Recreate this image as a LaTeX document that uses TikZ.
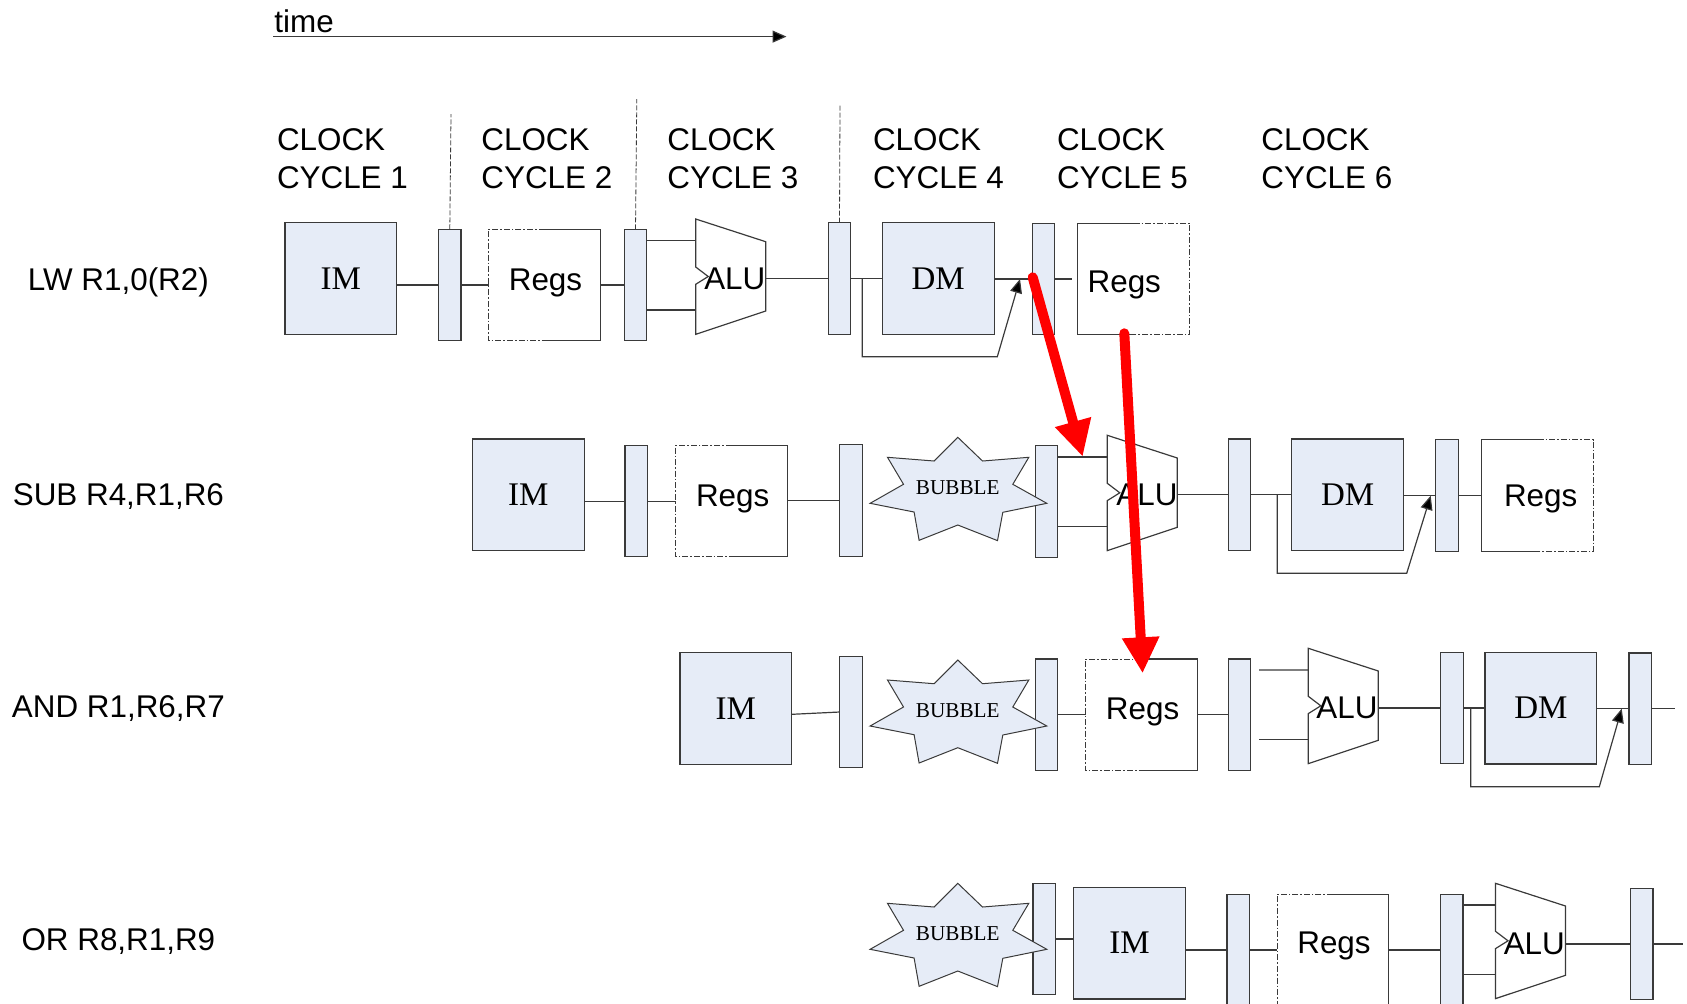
\documentclass[tikz,border=0pt]{standalone}
\usepackage{fontspec}
\setmainfont{Liberation Sans}
\newfontfamily\pipeserif{Liberation Serif}
\usepackage{xcolor}
\usetikzlibrary{arrows.meta,positioning}
\definecolor{pipeFill}{HTML}{E6ECF7}
\definecolor{pipeInk}{HTML}{3A3A3A}
\definecolor{pipeRed}{HTML}{FF0000}
\tikzset{
 stagebox/.style={draw=pipeInk,line width=0.6pt,inner sep=0pt,outer sep=0pt,anchor=north west},
 membox/.style={stagebox,fill=pipeFill,minimum width=55.9pt,minimum height=55.8pt,font=\pipeserif\fontsize{16.5}{18}\selectfont},
 latchbox/.style={stagebox,fill=pipeFill,minimum width=11.2pt,minimum height=55.7pt},
 regsbox/.style={inner sep=0pt,outer sep=0pt,anchor=north west,minimum width=55.9pt,minimum height=55.7pt},
 wire/.style={draw=pipeInk,line width=0.6pt},
 cyclemark/.style={draw=pipeInk,line width=0.4pt,dash pattern=on 2.5pt off 1pt},
 halfdash/.style={draw=pipeInk,line width=0.5pt,dash pattern=on 3pt off 1pt on 0.8pt off 1pt},
 sans/.style={font=\fontsize{15.7}{18.8}\selectfont,inner sep=0pt,align=left},
 flat/.style={sans,text depth=0pt},
 bubbletxt/.style={font=\pipeserif\fontsize{10.6}{13}\selectfont,inner sep=0pt},
 tip/.style={-{Triangle[length=7pt,width=6pt,fill=black]}},
 hazard/.style={draw=pipeRed,line width=5pt,line cap=round,-{Triangle[length=18pt,width=17.5pt,fill=pipeRed]}}
}
\begin{document}
\begin{tikzpicture}[x=0.5pt,y=-0.5pt]
\clip (0,0) rectangle (1687,1003);
% pipeline registers
\foreach \name/\x/\y in {
 la1/438.6/229.3,la2/624.3/229.3,la3/828.3/222.7,la4/1032.3/223.3,
 lb1/625/445.4,lb2/839.7/444.7,lb3/1035.3/445.7,lb4/1228.3/439,lb5/1435.7/439.7,
 lc1/839.7/656.3,lc2/1035.3/659,lc3/1228.4/659,lc4/1440.7/652.3,lc5/1629/653,
 ld1/1033/883.3,ld2/1227/894.3,ld3/1440.5/894.3,ld4/1630.6/888.3}{
 \node[latchbox] (\name) at (\x,\y) {};
}
\foreach \name/\x/\y/\txt in {
 im1/285/222.7/IM,dm1/882.3/222.7/DM,
 im2/472.3/439/IM,dm2/1291.7/439/DM,
 im3/680/652.5/IM,dm3/1485/652.3/DM,
 im4/1073.7/887.3/IM}{
 \node[membox] (\name) at (\x,\y) {\txt};
}
% register file, read side dashed on the left
\foreach \name/\x/\y/\tx/\ty in {
 rg1/488.6/229.3/545.5/279.5,rb1/675.7/445.4/732.7/495.5,
 rc1/1085.5/659/1142.6/708.5,rd1/1277/894.3/1334/943}{
 \node[regsbox] (\name) at (\x,\y) {};
 \draw[halfdash] (\name.north) -- (\name.north west) -- (\name.south west) -- (\name.south);
 \draw[wire] (\name.north) -- (\name.north east) -- (\name.south east) -- (\name.south);
 \node[flat] (\name-t) at (\tx,\ty) {Regs};
}
% register file, write side dashed on the right
\foreach \name/\x/\y/\tx/\ty in {
 rg2/1077.7/223.3/1124.3/281.5,rb2/1481.7/439.7/1540.7/495.5}{
 \node[regsbox] (\name) at (\x,\y) {};
 \draw[wire] (\name.north) -- (\name.north west) -- (\name.south west) -- (\name.south);
 \draw[halfdash] (\name.north) -- (\name.north east) -- (\name.south east) -- (\name.south);
 \node[flat] (\name-t) at (\tx,\ty) {Regs};
}
% ALU outlines
\foreach \name/\x/\y/\tx/\ty in {
 alu1/695.7/219/734.8/278.7,alu2/1107.3/435.3/1147/494.5,
 alu3/1308.3/648.3/1347/708,alu4/1495.5/883.3/1534.3/943.6}{
 \begin{scope}[shift={(\x,\y)}]
  \draw[wire] (0,0)--(70,22.7)--(70,92)--(0,115.3)--(0,65.3)--(12.5,57.5)--(0,48)--cycle;
  \coordinate (\name-a) at (0,21.7);
  \coordinate (\name-b) at (0,91);
  \coordinate (\name-o) at (70,59.5);
 \end{scope}
 \node[sans] (\name-t) at (\tx,\ty) {ALU};
}
% wires into a latch, at its height
\foreach \a/\b in {im1/la1,rg1/la2,im2/lb1,rb1/lb2,dm1/la4,dm2/lb5,rc1/lc3,dm3/lc5,im4/ld2,rd1/ld3}{
 \draw[wire] (\a.east |- \b.west) -- (\b.west);
}
% wires out of a latch
\foreach \a/\b in {la1/rg1,la3/dm1,lb1/rb1,lb4/dm2,lb5/rb2,lc2/rc1,lc4/dm3,ld1/im4,ld2/rd1}{
 \draw[wire] (\a.east) -- (\a.east -| \b.west);
}
\draw[wire] ([yshift=-3pt]im3.east) -- (lc1.west);
\foreach \a/\b in {alu1/la3,alu2/lb4,alu3/lc4,alu4/ld4}{
 \draw[wire] (\b.west -| \a-o) -- (\b.west);
}
\foreach \a/\b in {la2/alu1,lb3/alu2,ld3/alu4}{
 \draw[wire] (\a.east |- \b-a) -- (\b-a);
 \draw[wire] (\a.east |- \b-b) -- (\b-b);
}
\coordinate (ca) at (1259,670);
\coordinate (cb) at (1259,739.3);
\draw[wire] (ca) -- (alu3-a);
\draw[wire] (cb) -- (alu3-b);
\coordinate (e1) at (1072.3,279);
\coordinate (e2) at (1675,708.7);
\coordinate (e3) at (1683,943.5);
\draw[wire] (la4.east) -- (la4.east -| e1);
\draw[wire] (lc5.east) -- (lc5.east -| e2);
\draw[wire] (ld4.east) -- (ld4.east -| e3);
% bypass loops round DM
\foreach \name/\x/\y/\yb/\xk/\xt/\yt in {
 bp1/862.3/278.7/356.7/997.3/1020/279,
 bp2/1277.3/495/573.3/1406.7/1430.7/495.7,
 bp3/1470.7/708.3/786.7/1599.3/1621.7/708.7}{
 \coordinate (\name-s) at (\x,\y);
 \coordinate (\name-k) at (\xk,\yb);
 \coordinate (\name-t) at (\xt,\yt);
 \draw[wire,tip] (\name-s) |- (\name-k) -- (\name-t);
}
% bubbles
\foreach \name/\y in {bub1/437.3,bub2/660,bub3/883.3}{
 \begin{scope}[shift={(957.8,\y)}]
  \draw[draw=pipeInk,line width=0.5pt,fill=pipeFill] (0,0)--(24.7,23.7)--(71,20)--(55,47)--(89,66)--(45,75)--(39.7,103.3)--(0,87.7)--(-38.7,103)--(-43.7,74.7)--(-87.7,66)--(-54.3,47)--(-70.3,20)--(-23.7,23.7)--cycle;
  \node[bubbletxt] (\name) at (0,50.5) {BUBBLE};
 \end{scope}
}
% labels
\node[sans,anchor=west] (timelbl) at (274,21.5) {time};
\coordinate (tm0) at (273.3,36.6);
\coordinate (tm1) at (786.5,36.6);
\draw[wire,tip] (tm0) -- (tm1);
\foreach \name/\x/\n in {cc1/276.6/1,cc2/481/2,cc3/667/3,cc4/872.6/4,cc5/1056.6/5,cc6/1261/6}{
 \node[sans,anchor=west] (\name) at (\x,158.7) {CLOCK\\CYCLE \n};
}
\foreach \name/\y/\txt in {
 ins1/278.7/{LW R1,0(R2)},ins2/495/{SUB R4,R1,R6},
 ins3/707/{AND R1,R6,R7},ins4/940/{OR R8,R1,R9}}{
 \node[flat] (\name) at (118.4,\y) {\txt};
}
\coordinate (ck1) at (451,114);
\coordinate (ck2) at (636.8,99);
\coordinate (ck3) at (840,105.5);
\draw[cyclemark] (la1.north) -- (ck1);
\draw[cyclemark] (la2.north) -- (ck2);
\draw[cyclemark] (la3.north) -- (ck3);
% load-use hazards
\coordinate (hz1s) at (1032.7,277.3);
\coordinate (hz1e) at (1082.7,456.7);
\coordinate (hz2s) at (1124.3,333.3);
\coordinate (hz2e) at (1142.6,673.3);
\draw[hazard] (hz1s) -- (hz1e);
\draw[hazard] (hz2s) -- (hz2e);
\end{tikzpicture}
\end{document}
